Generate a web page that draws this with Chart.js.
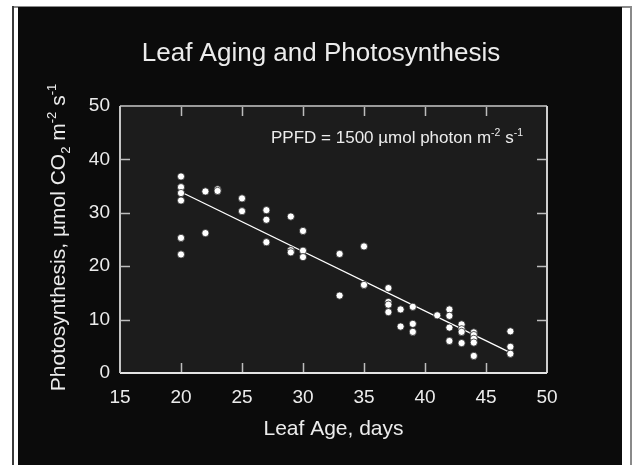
<!DOCTYPE html>
<html>
<head>
<meta charset="utf-8">
<style>
  html, body { margin: 0; padding: 0; background: #fff; }
  canvas { display: block; }
</style>
<script src="https://cdn.jsdelivr.net/npm/chart.js@4.4.1/dist/chart.umd.min.js"></script>
</head>
<body>
<canvas id="chart" width="634" height="465"></canvas>
<script>
// leaf age (days) and net photosynthesis
const ageDays = [
  20, 20, 20, 20, 20, 20,
  22, 22,
  23, 23,
  25, 25,
  27, 27, 27,
  29, 29, 29,
  30, 30, 30,
  33, 33,
  35, 35,
  37, 37, 37, 37,
  38, 38,
  39, 39, 39,
  41,
  42, 42, 42, 42,
  43, 43, 43, 43,
  44, 44, 44, 44, 44,
  47, 47, 47,
];
const photoRate = [
  36.8, 34.8, 33.7, 32.3, 25.3, 22.2,
  34.0, 26.2,
  34.4, 34.1,
  32.7, 30.3,
  30.5, 28.7, 24.5,
  29.3, 23.0, 22.6,
  26.6, 22.9, 21.7,
  22.3, 14.5,
  23.7, 16.5,
  15.9, 13.3, 12.8, 11.4,
  11.9, 8.7,
  12.4, 9.2, 7.7,
  10.8,
  11.9, 10.7, 8.5, 6.0,
  9.1, 8.2, 7.7, 5.6,
  7.6, 7.1, 6.4, 5.7, 3.2,
  7.8, 4.9, 3.6,
];
// regression line end points
const fitX = [20, 47];
const fitY = [33.9, 3.8];

const xTickMarks = [20, 25, 30, 35, 40, 45];
const yTickMarks = [10, 20, 30, 40];

const FONT = '"Liberation Sans", Arial, Helvetica, sans-serif';

// draws text made of normal / sub / sup pieces, returns nothing
function richText(ctx, parts, x, y, size, align) {
  const measure = p => {
    const s = p.sub || p.sup ? size * 0.62 : size;
    ctx.font = `${s}px ${FONT}`;
    return ctx.measureText(p.t).width;
  };
  const total = parts.reduce((w, p) => w + measure(p), 0);
  let cx = align === 'center' ? x - total / 2 : align === 'right' ? x - total : x;
  ctx.textAlign = 'left';
  ctx.textBaseline = 'alphabetic';
  parts.forEach(p => {
    const s = p.sub || p.sup ? size * 0.62 : size;
    ctx.font = `${s}px ${FONT}`;
    const dy = p.sub ? size * 0.22 : p.sup ? -size * 0.42 : 0;
    ctx.fillText(p.t, cx, y + dy);
    cx += ctx.measureText(p.t).width;
  });
}

const framePlugin = {
  id: 'frame',
  beforeDraw(chart) {
    const { ctx, chartArea: a } = chart;
    ctx.save();
    ctx.fillStyle = '#ffffff';
    ctx.fillRect(0, 0, 634, 465);
    ctx.fillStyle = '#8a8a8a';
    ctx.fillRect(12, 6, 620, 2);
    ctx.fillRect(630, 6, 2, 459);
    ctx.fillStyle = '#3a3a3a';
    ctx.fillRect(12, 6, 2, 459);
    ctx.fillStyle = '#0b0b0b';
    ctx.fillRect(18, 7, 604, 458);
    ctx.fillStyle = '#1c1c1c';
    ctx.fillRect(a.left, a.top, a.right - a.left, a.bottom - a.top);
    ctx.restore();
  },
  afterDatasetsDraw(chart) {
    const { ctx, chartArea: a, scales: { x, y } } = chart;
    ctx.save();
    // inside ticks on all four sides
    ctx.lineWidth = 1.5;
    ctx.strokeStyle = '#bdbdbd';
    xTickMarks.forEach(v => {
      const px = Math.round(x.getPixelForValue(v)) + 0.5;
      ctx.beginPath();
      ctx.moveTo(px, a.bottom); ctx.lineTo(px, a.bottom - 10);
      ctx.moveTo(px, a.top); ctx.lineTo(px, a.top + 10);
      ctx.stroke();
    });
    yTickMarks.forEach(v => {
      const py = Math.round(y.getPixelForValue(v)) + 0.5;
      ctx.beginPath();
      ctx.moveTo(a.left, py); ctx.lineTo(a.left + 10, py);
      ctx.moveTo(a.right, py); ctx.lineTo(a.right - 10, py);
      ctx.stroke();
    });
    // box
    ctx.lineWidth = 2;
    ctx.strokeStyle = '#9a9a9a';
    ctx.beginPath(); ctx.moveTo(a.left, a.top); ctx.lineTo(a.right, a.top); ctx.stroke();
    ctx.strokeStyle = '#cfcfcf';
    ctx.beginPath(); ctx.moveTo(a.right, a.top); ctx.lineTo(a.right, a.bottom); ctx.stroke();
    ctx.strokeStyle = '#e4e4e4';
    ctx.beginPath(); ctx.moveTo(a.left, a.bottom); ctx.lineTo(a.right, a.bottom); ctx.stroke();
    ctx.strokeStyle = '#c4c4c4';
    ctx.beginPath(); ctx.moveTo(a.left, a.top); ctx.lineTo(a.left, a.bottom); ctx.stroke();

    // texts
    ctx.fillStyle = '#ececec';
    const mid = (a.left + a.right) / 2;
    richText(ctx, [{ t: 'Leaf Aging and Photosynthesis' }], 321, 61, 26, 'center');
    richText(ctx, [{ t: 'Leaf Age, days' }], mid, 435, 21, 'center');
    richText(ctx, [
      { t: 'PPFD = 1500 µmol photon m' }, { t: '-2', sup: true },
      { t: ' s' }, { t: '-1', sup: true },
    ], 523, 143, 17, 'right');

    ctx.save();
    ctx.translate(65, (a.top + a.bottom) / 2 - 2);
    ctx.rotate(-Math.PI / 2);
    richText(ctx, [
      { t: 'Photosynthesis, µmol CO' }, { t: '2', sub: true },
      { t: ' m' }, { t: '-2', sup: true },
      { t: ' s' }, { t: '-1', sup: true },
    ], 0, 0, 21, 'center');
    ctx.restore();
    ctx.restore();
  },
};

new Chart(document.getElementById('chart'), {
  type: 'scatter',
  data: {
    datasets: [
      {
        label: 'Measured',
        data: ageDays.map((d, i) => ({ x: d, y: photoRate[i] })),
        pointRadius: 3.6,
        pointBackgroundColor: '#ffffff',
        pointBorderColor: '#2a2a2a',
        pointBorderWidth: 0.8,
        order: 1,
      },
      {
        label: 'Fit',
        type: 'line',
        data: fitX.map((d, i) => ({ x: d, y: fitY[i] })),
        borderColor: '#ffffff',
        borderWidth: 1.3,
        pointRadius: 0,
        order: 2,
      },
    ],
  },
  options: {
    responsive: false,
    devicePixelRatio: 1,
    animation: false,
    layout: { padding: { top: 106, right: 87, bottom: 0, left: 0 } },
    plugins: { legend: { display: false }, tooltip: { enabled: false } },
    scales: {
      x: {
        type: 'linear',
        min: 15, max: 50,
        grid: { display: false, drawTicks: false },
        border: { display: false },
        ticks: { stepSize: 5, color: '#ececec', padding: 13, font: { family: FONT, size: 19 } },
        afterFit: s => { s.height = 92; },
      },
      y: {
        min: 0, max: 50,
        grid: { display: false, drawTicks: false },
        border: { display: false },
        ticks: { stepSize: 10, color: '#ececec', padding: 10, font: { family: FONT, size: 19 } },
        afterFit: s => { s.width = 120; },
      },
    },
  },
  plugins: [framePlugin],
});
</script>
</body>
</html>
